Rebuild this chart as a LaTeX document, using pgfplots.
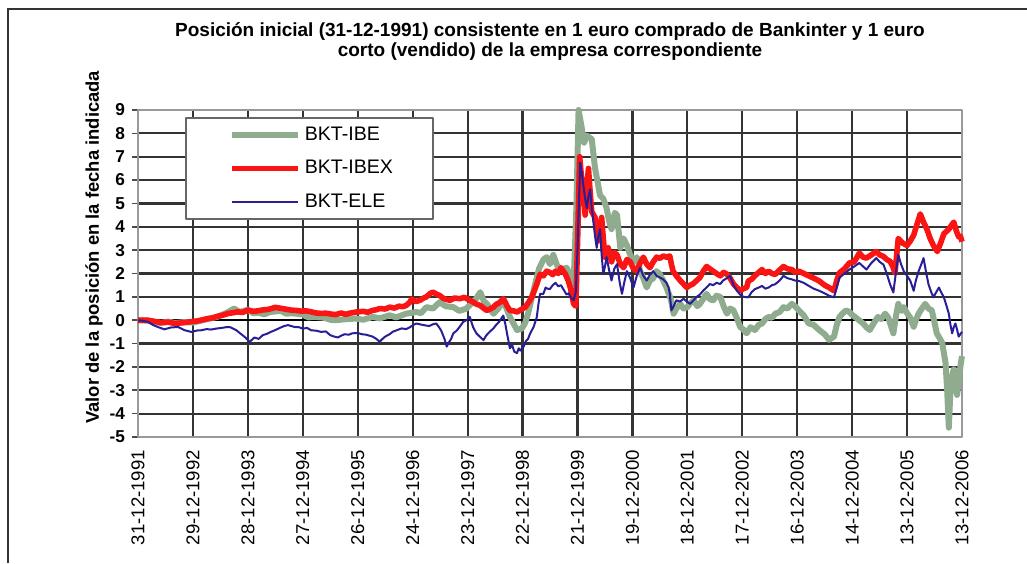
\documentclass[border=0pt]{standalone}
\usepackage{fontspec}
\setmainfont{Liberation Sans}
\usepackage{pgfplots}
\pgfplotsset{compat=1.18}

\definecolor{ibegreen}{RGB}{143,172,143}
\definecolor{ibexred}{RGB}{250,20,20}
\definecolor{eleblue}{RGB}{40,30,150}

\begin{document}
\begin{tikzpicture}
\useasboundingbox (-69pt,-63pt) rectangle (444.5pt,218.5pt);
\draw[line width=1.3pt, black!80] (-65pt,-63pt) -- (-65pt,214pt) -- (444.5pt,214pt);

\begin{axis}[
    at={(0,0)}, anchor=south west,
    scale only axis,
    width=412pt, height=163.5pt,
    xmin=0, xmax=15,
    ymin=-5, ymax=9,
    clip=false,
    xtick={0,1,2,3,4,5,6,7,8,9,10,11,12,13,14,15},
    xticklabels={31-12-1991,29-12-1992,28-12-1993,27-12-1994,26-12-1995,24-12-1996,23-12-1997,22-12-1998,21-12-1999,19-12-2000,18-12-2001,17-12-2002,16-12-2003,14-12-2004,13-12-2005,13-12-2006},
    xticklabel style={rotate=90, anchor=east, font=\fontsize{9.3}{10}\selectfont},
    xtick style={draw=none},
    ytick={-5,-4,-3,-2,-1,0,1,2,3,4,5,6,7,8,9},
    yticklabels={-5,-4,-3,-2,-1,0,1,2,3,4,5,6,7,8,9},
    yticklabel style={font=\bfseries\fontsize{8.6}{10}\selectfont},
    ytick style={draw=black!70, line width=0.8pt},
    tick align=outside,
    major tick length=3pt,
    tick pos=left,
    grid=major,
    major grid style={draw=black!80, line width=1.1pt},
    axis line style={draw=black!40, line width=1pt},
    ylabel={Valor de la posición en la fecha indicada},
    every axis y label/.style={at={(axis description cs:-0.0534,0.58)}, rotate=90, anchor=center, font=\bfseries\fontsize{9.2}{10}\selectfont},
    legend style={at={(axis description cs:0.057,0.9786)}, anchor=north west, draw=black!60, line width=0.8pt, fill=white, font=\fontsize{9.8}{11}\selectfont, row sep=4.5pt, inner xsep=3pt, inner ysep=2.5pt},
    legend cell align=left,
    legend image code/.code={\path[draw=none] (0pt,0pt) -- (1pt,0pt); \draw[#1] (20pt,0pt) -- (53pt,0pt);},
    line join=round,
]

\addplot[black, line width=1pt, forget plot] coordinates {(0,0) (15,0)};

\addplot[ibegreen, line width=3pt] coordinates {
(0,0) (0.18,-0.02) (0.3,-0.08) (0.42,-0.12) (0.55,-0.06) (0.67,-0.12) (0.85,-0.08) (1.0,-0.1) (1.09,-0.05)
(1.27,0.05) (1.45,0.15) (1.55,0.25) (1.64,0.35) (1.75,0.5) (1.85,0.35) (2.0,0.45) (2.1,0.3) (2.2,0.32)
(2.3,0.25) (2.4,0.35) (2.6,0.4) (2.7,0.28) (2.8,0.3) (3.0,0.25) (3.1,0.12) (3.2,0.15) (3.4,0.1) (3.5,0.02)
(3.6,0.0) (3.8,0.05) (3.97,0.07) (4.1,0.02) (4.27,0.14) (4.4,0.08) (4.58,0.21) (4.7,0.12) (4.88,0.28)
(5.07,0.35) (5.15,0.3) (5.25,0.56) (5.37,0.5) (5.49,0.77) (5.6,0.6) (5.74,0.56) (5.85,0.4) (5.98,0.5)
(6.08,0.75) (6.15,0.9) (6.23,1.2) (6.3,0.8) (6.35,0.7) (6.47,0.28) (6.56,0.5) (6.65,0.85) (6.77,0.14)
(6.9,-0.42) (6.99,-0.35) (7.05,-0.1) (7.1,0.28) (7.2,1.27) (7.3,2.2) (7.38,2.6) (7.44,2.7) (7.5,2.4)
(7.56,2.8) (7.62,2.4) (7.68,2.1) (7.8,2.25) (7.88,1.9) (7.93,1.55) (7.98,4.8) (8.02,9.0) (8.08,8.2)
(8.12,7.6) (8.17,7.9) (8.26,7.75) (8.32,6.5) (8.36,6.0) (8.41,5.35) (8.47,5.2) (8.53,4.8) (8.58,4.2)
(8.62,3.9) (8.68,4.6) (8.72,4.5) (8.78,3.1) (8.84,3.5) (8.9,3.2) (8.96,2.8) (9.02,2.5) (9.08,2.7)
(9.14,2.1) (9.2,1.8) (9.26,1.4) (9.32,1.7) (9.38,1.8) (9.44,2.1) (9.5,1.97) (9.56,1.7) (9.62,1.4)
(9.7,0.9) (9.75,0.28) (9.8,0.5) (9.87,0.7) (9.93,0.5) (10.0,0.56) (10.06,0.75) (10.12,0.85) (10.18,0.6)
(10.23,0.7) (10.3,0.95) (10.35,1.13) (10.41,0.9) (10.47,0.85) (10.53,1.05) (10.6,1.0) (10.66,0.6)
(10.72,0.28) (10.78,0.5) (10.84,0.42) (10.9,0.1) (10.96,-0.28) (11.02,-0.4) (11.08,-0.56) (11.15,-0.3)
(11.23,-0.42) (11.3,-0.2) (11.36,-0.14) (11.42,0.05) (11.48,0.14) (11.54,0.1) (11.6,0.28) (11.68,0.35)
(11.75,0.56) (11.82,0.5) (11.9,0.7) (11.96,0.6) (12.03,0.42) (12.12,0.2) (12.21,-0.14) (12.3,-0.2)
(12.4,-0.42) (12.5,-0.6) (12.58,-0.84) (12.67,-0.7) (12.72,-0.2) (12.77,0.14) (12.83,0.3) (12.89,0.42)
(12.95,0.35) (13.01,0.21) (13.1,0.05) (13.2,-0.14) (13.26,-0.3) (13.32,-0.42) (13.4,-0.1) (13.47,0.14)
(13.53,0.05) (13.6,0.28) (13.66,0.1) (13.75,-0.56) (13.8,0.2) (13.84,0.7) (13.9,0.4) (13.94,0.56)
(14.0,0.3) (14.06,0.1) (14.12,-0.28) (14.16,0.0) (14.21,0.28) (14.27,0.5) (14.33,0.7) (14.39,0.5)
(14.45,0.42) (14.5,-0.1) (14.54,-0.56) (14.6,-0.8) (14.64,-0.98) (14.7,-1.82) (14.73,-3.0) (14.76,-4.6)
(14.79,-2.94) (14.82,-2.4) (14.85,-2.1) (14.88,-2.8) (14.91,-3.2) (14.95,-2.4) (14.98,-1.82) (15.0,-1.54)
};
\addlegendentry{BKT-IBE\hspace*{15pt}}

\addplot[ibexred, line width=2.8pt] coordinates {
(0,0) (0.18,0) (0.3,-0.05) (0.42,-0.1) (0.55,-0.08) (0.67,-0.14) (0.85,-0.1) (1.0,-0.05) (1.09,-0.03)
(1.27,0.07) (1.36,0.1) (1.45,0.17) (1.55,0.22) (1.64,0.29) (1.73,0.32) (1.82,0.36) (1.9,0.33) (2.0,0.43)
(2.1,0.38) (2.18,0.4) (2.27,0.44) (2.36,0.46) (2.43,0.5) (2.5,0.55) (2.6,0.51) (2.7,0.47) (2.79,0.43)
(2.88,0.42) (2.97,0.39) (3.06,0.4) (3.15,0.36) (3.24,0.31) (3.33,0.29) (3.42,0.3) (3.52,0.26) (3.6,0.24)
(3.7,0.31) (3.78,0.25) (3.85,0.3) (3.97,0.35) (4.1,0.38) (4.18,0.34) (4.27,0.42) (4.34,0.45) (4.4,0.5)
(4.5,0.48) (4.58,0.56) (4.67,0.52) (4.75,0.6) (4.82,0.58) (4.88,0.63) (4.94,0.75) (4.98,0.9) (5.06,0.8)
(5.13,0.85) (5.2,0.95) (5.25,1.0) (5.32,1.15) (5.37,1.2) (5.43,1.12) (5.49,1.06) (5.55,0.95) (5.6,0.9)
(5.68,0.85) (5.76,0.95) (5.86,0.92) (5.94,0.98) (6.04,0.85) (6.1,0.78) (6.15,0.7) (6.23,0.63) (6.3,0.5)
(6.35,0.42) (6.41,0.48) (6.47,0.56) (6.52,0.68) (6.58,0.75) (6.65,0.92) (6.69,0.75) (6.72,0.6) (6.77,0.42)
(6.84,0.4) (6.9,0.35) (6.97,0.45) (7.05,0.56) (7.12,0.8) (7.17,0.99) (7.22,1.3) (7.26,1.55) (7.32,1.97)
(7.38,1.9) (7.44,2.1) (7.5,2.04) (7.55,1.95) (7.6,2.1) (7.65,2.0) (7.7,2.25) (7.74,2.1) (7.78,1.97)
(7.83,1.7) (7.87,1.4) (7.93,0.7) (7.97,0.6) (8.0,3.2) (8.04,7.0) (8.07,6.2) (8.1,5.8) (8.14,4.5)
(8.17,5.6) (8.2,6.5) (8.23,5.5) (8.26,4.65) (8.32,4.4) (8.35,3.9) (8.38,3.4) (8.44,4.4) (8.47,3.5)
(8.5,2.7) (8.56,3.1) (8.62,2.5) (8.67,2.9) (8.72,2.8) (8.78,2.4) (8.84,2.25) (8.9,2.6) (8.96,2.5)
(9.02,2.2) (9.08,2.1) (9.14,2.45) (9.2,2.7) (9.26,2.4) (9.32,2.25) (9.38,2.5) (9.44,2.7) (9.5,2.65)
(9.56,2.75) (9.62,2.7) (9.68,2.75) (9.71,2.4) (9.74,2.1) (9.8,1.9) (9.87,1.7) (9.93,1.55) (9.99,1.4)
(10.05,1.5) (10.1,1.55) (10.17,1.7) (10.23,1.83) (10.29,2.1) (10.35,2.3) (10.41,2.2) (10.47,2.1)
(10.53,2.0) (10.6,1.9) (10.66,2.05) (10.72,1.97) (10.78,1.8) (10.84,1.55) (10.9,1.4) (10.96,1.27)
(11.02,1.35) (11.08,1.4) (11.11,1.68) (11.17,1.75) (11.23,1.9) (11.3,2.05) (11.36,2.17) (11.42,2.0)
(11.48,2.1) (11.54,2.0) (11.6,1.96) (11.68,2.15) (11.75,2.3) (11.82,2.2) (11.9,2.17) (11.96,2.05)
(12.03,2.1) (12.12,2.0) (12.21,1.9) (12.3,1.8) (12.4,1.68) (12.5,1.5) (12.58,1.4) (12.67,1.26)
(12.72,1.7) (12.77,2.03) (12.86,2.2) (12.95,2.45) (13.04,2.5) (13.13,2.87) (13.2,2.7) (13.26,2.66)
(13.35,2.8) (13.44,2.94) (13.5,2.8) (13.57,2.73) (13.63,2.6) (13.69,2.52) (13.74,2.3) (13.78,2.03)
(13.84,3.5) (13.92,3.3) (14.0,3.2) (14.06,3.4) (14.12,3.64) (14.18,4.1) (14.24,4.55) (14.3,4.2)
(14.36,3.9) (14.42,3.5) (14.48,3.2) (14.55,2.94) (14.61,3.3) (14.67,3.7) (14.76,3.9) (14.85,4.2)
(14.9,3.8) (14.94,3.57) (14.97,3.6) (15.0,3.36)
};
\addlegendentry{BKT-IBEX\hspace*{15pt}}

\addplot[eleblue, line width=1pt] coordinates {
(0,0) (0.1,-0.03) (0.18,-0.07) (0.27,-0.2) (0.36,-0.29) (0.48,-0.39) (0.6,-0.31) (0.73,-0.29) (0.85,-0.43)
(0.97,-0.5) (1.08,-0.44) (1.15,-0.43) (1.25,-0.38) (1.33,-0.4) (1.42,-0.36) (1.52,-0.33) (1.6,-0.3)
(1.67,-0.29) (1.79,-0.43) (1.88,-0.6) (1.96,-0.75) (2.03,-0.93) (2.12,-0.74) (2.2,-0.8) (2.27,-0.64)
(2.35,-0.58) (2.42,-0.5) (2.5,-0.42) (2.6,-0.31) (2.66,-0.25) (2.73,-0.21) (2.85,-0.29) (2.93,-0.3)
(3.0,-0.36) (3.08,-0.33) (3.15,-0.43) (3.25,-0.45) (3.33,-0.5) (3.42,-0.48) (3.5,-0.64) (3.57,-0.7)
(3.64,-0.74) (3.7,-0.66) (3.76,-0.6) (3.84,-0.62) (3.9,-0.56) (4.0,-0.55) (4.08,-0.6) (4.15,-0.62)
(4.27,-0.7) (4.34,-0.8) (4.4,-0.92) (4.45,-0.8) (4.5,-0.7) (4.58,-0.6) (4.64,-0.49) (4.72,-0.42)
(4.8,-0.35) (4.88,-0.38) (4.95,-0.3) (5.01,-0.2) (5.07,-0.14) (5.14,-0.18) (5.2,-0.21) (5.3,-0.25)
(5.36,-0.18) (5.43,-0.14) (5.48,-0.3) (5.52,-0.45) (5.58,-0.8) (5.62,-1.13) (5.66,-0.95) (5.7,-0.8)
(5.74,-0.56) (5.8,-0.45) (5.85,-0.3) (5.92,-0.07) (5.98,0.0) (6.04,0.14) (6.1,-0.3) (6.16,-0.56)
(6.22,-0.7) (6.29,-0.85) (6.34,-0.65) (6.4,-0.5) (6.47,-0.35) (6.52,-0.2) (6.58,-0.05) (6.65,0.2)
(6.69,-0.2) (6.72,-0.6) (6.77,-1.2) (6.81,-1.05) (6.85,-1.35) (6.9,-1.41) (6.93,-1.2) (6.96,-1.3)
(7.02,-1.13) (7.06,-0.9) (7.1,-0.8) (7.14,-0.56) (7.2,-0.3) (7.26,0.14) (7.29,0.7) (7.32,1.13)
(7.38,1.13) (7.42,1.4) (7.45,1.35) (7.5,1.34) (7.55,1.5) (7.6,1.6) (7.65,1.45) (7.7,1.5) (7.75,1.3)
(7.8,1.1) (7.84,1.15) (7.87,1.0) (7.93,0.85) (7.97,1.2) (8.0,3.0) (8.05,6.75) (8.08,6.3) (8.1,5.9)
(8.14,5.2) (8.17,4.8) (8.2,5.3) (8.23,5.6) (8.26,4.8) (8.29,4.2) (8.32,3.6) (8.35,3.1) (8.38,3.6)
(8.41,3.9) (8.44,2.8) (8.47,1.97) (8.5,2.3) (8.53,2.7) (8.58,2.1) (8.62,1.7) (8.67,2.2) (8.72,2.4)
(8.77,1.6) (8.81,1.13) (8.85,1.6) (8.9,2.1) (8.96,1.8) (9.02,1.4) (9.08,1.9) (9.14,2.25) (9.2,1.9)
(9.26,1.7) (9.32,1.95) (9.38,2.1) (9.44,1.9) (9.5,1.83) (9.56,1.75) (9.62,1.6) (9.66,1.4) (9.68,1.13)
(9.71,0.42) (9.75,0.6) (9.8,0.85) (9.87,0.8) (9.93,0.92) (9.99,0.8) (10.05,0.7) (10.11,0.85) (10.17,1.0)
(10.23,1.1) (10.29,1.27) (10.35,1.4) (10.41,1.55) (10.47,1.5) (10.53,1.6) (10.6,1.55) (10.65,1.7)
(10.72,1.8) (10.78,1.9) (10.84,1.5) (10.9,1.27) (10.96,1.1) (11.02,1.0) (11.11,0.98) (11.17,1.2)
(11.23,1.33) (11.3,1.4) (11.36,1.47) (11.42,1.35) (11.48,1.4) (11.54,1.5) (11.6,1.54) (11.68,1.7)
(11.75,1.9) (11.82,1.8) (11.9,1.75) (11.96,1.7) (12.03,1.68) (12.12,1.6) (12.21,1.47) (12.3,1.35)
(12.4,1.26) (12.5,1.15) (12.58,1.05) (12.67,0.98) (12.72,1.4) (12.77,1.82) (12.86,2.0) (12.95,2.17)
(13.04,2.3) (13.13,2.45) (13.2,2.3) (13.26,2.17) (13.35,2.45) (13.44,2.66) (13.5,2.5) (13.57,2.38)
(13.63,2.0) (13.69,1.54) (13.75,1.19) (13.8,2.1) (13.84,2.8) (13.89,2.4) (13.94,2.1) (14.0,1.9)
(14.06,1.68) (14.12,1.26) (14.16,1.7) (14.21,2.1) (14.26,2.4) (14.3,2.66) (14.35,2.0) (14.39,1.54)
(14.44,1.2) (14.48,0.98) (14.53,1.2) (14.58,1.4) (14.62,1.2) (14.67,0.98) (14.72,0.6) (14.76,0.28)
(14.79,-0.2) (14.82,-0.56) (14.85,-0.3) (14.88,-0.14) (14.91,-0.4) (14.94,-0.7) (14.97,-0.6) (15.0,-0.5)
};
\addlegendentry{BKT-ELE\hspace*{15pt}}

\node[align=center, font=\bfseries\fontsize{9.5}{10}\selectfont] at (rel axis cs:0.5,1.208) {Posición inicial (31-12-1991) consistente en 1 euro comprado de Bankinter y 1 euro\\corto (vendido) de la empresa correspondiente};
\end{axis}
\end{tikzpicture}
\end{document}
